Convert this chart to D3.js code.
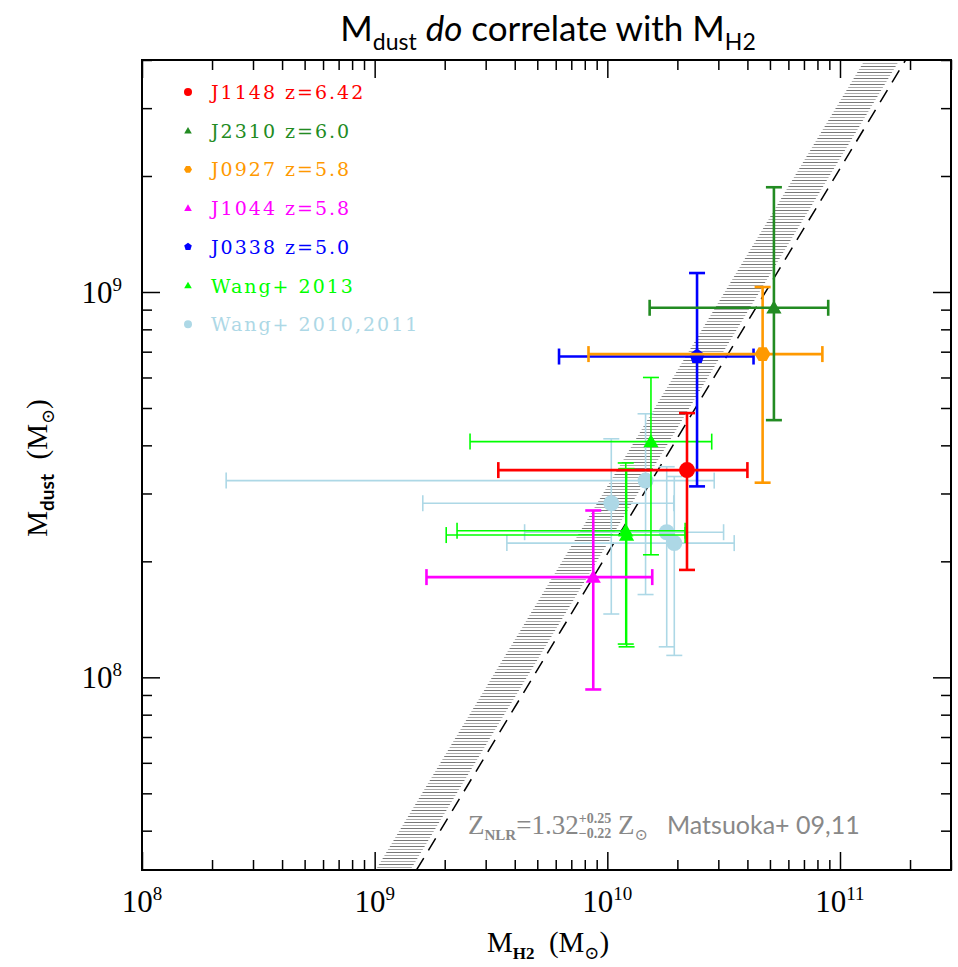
<!DOCTYPE html>
<html>
<head>
<meta charset="utf-8">
<title>Mdust vs MH2</title>
<script src="https://cdn.jsdelivr.net/npm/d3@7"></script>
<style>
  body { margin: 0; background: #fff; }
  text { white-space: pre; }
</style>
</head>
<body>
<svg id="vis" width="958" height="967"></svg>
<script>
// series (legend order)
const seriesNames = ["J1148 z=6.42", "J2310 z=6.0", "J0927 z=5.8", "J1044 z=5.8", "J0338 z=5.0", "Wang+ 2013", "Wang+ 2010,2011"];
const seriesColors = ["#ff0000", "#228b22", "#ff9900", "#ff00ff", "#0000ff", "#00ff00", "#add8e6"];
const seriesShapes = ["circle", "triangle", "hexagon", "triangle", "pentagon", "triangle", "circle"];

// points, in drawing order (Wang 2010/11, Wang 2013, then the five quasars)
const pointSeries = [6, 6, 6, 6, 5, 5, 5, 3, 4, 2, 1, 0];
const mH2     = [1.46e10, 1.04e10, 1.80e10, 1.94e10, 1.54e10, 1.20e10, 1.21e10, 8.7e9, 2.43e10, 4.65e10, 5.2e10, 2.2e10];
const mH2Lo   = [2.3e8, 1.61e9, 4.41e9, 3.70e9, 2.57e9, 2.26e9, 2.03e9, 1.67e9, 6.2e9, 8.3e9, 1.52e10, 3.4e9];
const mH2Hi   = [2.88e10, 1.93e10, 3.16e10, 3.51e10, 2.81e10, 2.16e10, 2.16e10, 1.56e10, 4.25e10, 8.4e10, 8.9e10, 4.0e10];
const mDust   = [3.24e8, 2.83e8, 2.38e8, 2.23e8, 4.09e8, 2.40e8, 2.34e8, 1.82e8, 6.8e8, 6.9e8, 9.1e8, 3.45e8];
const mDustLo = [1.64e8, 1.46e8, 1.20e8, 1.14e8, 2.08e8, 1.22e8, 1.20e8, 9.3e7, 3.13e8, 3.2e8, 4.65e8, 1.9e8];
const mDustHi = [4.83e8, 4.16e8, 3.52e8, 3.32e8, 6.0e8, 3.60e8, 3.48e8, 2.71e8, 1.12e9, 1.03e9, 1.87e9, 4.85e8];

// Mdust / MH2 ratios : shaded band (Matsuoka Z_NLR) and dashed line
const bandRatio = [0.0222, 0.0313];
const lineRatio = 0.0209;

// axes
const xDomain = [1e8, 3e11];
const yDomain = [Math.pow(10, 7.5), 4e9];
const xMajorTicks = [1e8, 1e9, 1e10, 1e11];
const yMajorTicks = [1e8, 1e9];
const xExpLabels = ["8", "9", "10", "11"];
const yExpLabels = ["8", "9"];

const L = 142, R = 951, T = 60, B = 870;
const serif = "'Liberation Serif', 'DejaVu Serif', serif";
const sans = "Lato, 'Open Sans', sans-serif";

const svg = d3.select("#vis");
const x = d3.scaleLog().domain(xDomain).range([L, R]);
const y = d3.scaleLog().domain(yDomain).range([B, T]);

// clip + hatch pattern
const defs = svg.append("defs");
defs.append("clipPath").attr("id", "plotClip")
  .append("rect").attr("x", L).attr("y", T).attr("width", R - L).attr("height", B - T);
const pat = defs.append("pattern").attr("id", "hatch")
  .attr("patternUnits", "userSpaceOnUse").attr("width", 20).attr("height", 6);
pat.append("rect").attr("x", 0).attr("y", 0).attr("width", 20).attr("height", 1).attr("fill", "#777");
pat.append("rect").attr("x", 0).attr("y", 3).attr("width", 20).attr("height", 1).attr("fill", "#aaa");

const plot = svg.append("g").attr("clip-path", "url(#plotClip)");

// band
const yLo = yDomain[0], yHi = yDomain[1];
const bandPts = [
  [yLo / bandRatio[1], yLo], [yHi / bandRatio[1], yHi],
  [yHi / bandRatio[0], yHi], [yLo / bandRatio[0], yLo]
];
plot.append("path")
  .attr("d", d3.line().x(d => x(d[0])).y(d => y(d[1]))(bandPts) + "Z")
  .attr("fill", "url(#hatch)");

// dashed line
plot.append("line")
  .attr("x1", x(yLo / lineRatio)).attr("y1", y(yLo))
  .attr("x2", x(yHi / lineRatio)).attr("y2", y(yHi))
  .attr("stroke", "#000").attr("stroke-width", 1.5)
  .attr("stroke-dasharray", "14 9");

// marker shapes
function shapePath(shape, r) {
  if (shape === "circle") return d3.symbol(d3.symbolCircle, Math.PI * r * r)();
  let n = 3, rot = -Math.PI / 2, rr = r * 1.1;
  if (shape === "pentagon") { n = 5; rr = r; }
  if (shape === "hexagon") { n = 6; rot = 0; rr = r; }
  const pts = d3.range(n).map(i => {
    const a = rot + i * 2 * Math.PI / n;
    return [rr * Math.cos(a), rr * Math.sin(a) + (n === 3 ? rr * 0.15 : 0)];
  });
  return "M" + pts.map(p => p.join(",")).join("L") + "Z";
}

// error bars + points
const pts = mH2.map((v, i) => ({
  s: pointSeries[i], x: v, xl: mH2Lo[i], xh: mH2Hi[i],
  y: mDust[i], yl: mDustLo[i], yh: mDustHi[i]
}));
const cap = 8;
pts.forEach(p => {
  const c = seriesColors[p.s];
  const quasar = p.s < 5;
  const lw = quasar ? 2.6 : 1.6;
  const g = plot.append("g").attr("stroke", c).attr("stroke-width", lw).attr("fill", "none");
  const cx = x(p.x), cy = y(p.y);
  g.append("line").attr("x1", x(p.xl)).attr("x2", x(p.xh)).attr("y1", cy).attr("y2", cy);
  g.append("line").attr("x1", cx).attr("x2", cx).attr("y1", y(p.yl)).attr("y2", y(p.yh));
  [x(p.xl), x(p.xh)].forEach(xx =>
    g.append("line").attr("x1", xx).attr("x2", xx).attr("y1", cy - cap).attr("y2", cy + cap));
  [y(p.yl), y(p.yh)].forEach(yy =>
    g.append("line").attr("x1", cx - cap).attr("x2", cx + cap).attr("y1", yy).attr("y2", yy));
  plot.append("path")
    .attr("d", shapePath(seriesShapes[p.s], 8))
    .attr("transform", `translate(${cx},${cy})`)
    .attr("fill", c);
});

// ticks on all four sides
const minorX = x.ticks().filter(v => !xMajorTicks.includes(v));
const minorY = y.ticks().filter(v => !yMajorTicks.includes(v));
function tickAxis(axisFn, scale, vals, size, tr) {
  svg.append("g").attr("transform", tr)
    .call(axisFn(scale).tickValues(vals).tickSize(-size).tickFormat(""))
    .call(g => g.select(".domain").remove())
    .call(g => g.selectAll("line").attr("stroke", "#000").attr("stroke-width", 1.5));
}
[[minorX, 10], [xMajorTicks, 18]].forEach(([v, s]) => {
  tickAxis(d3.axisBottom, x, v, s, `translate(0,${B})`);
  tickAxis(d3.axisTop, x, v, s, `translate(0,${T})`);
});
[[minorY, 10], [yMajorTicks, 18]].forEach(([v, s]) => {
  tickAxis(d3.axisLeft, y, v, s, `translate(${L},0)`);
  tickAxis(d3.axisRight, y, v, s, `translate(${R},0)`);
});

// frame
svg.append("rect").attr("x", L).attr("y", T).attr("width", R - L).attr("height", B - T)
  .attr("fill", "none").attr("stroke", "#000").attr("stroke-width", 2);

// tick labels
function powLabel(sel, exp) {
  sel.append("tspan").text("10");
  sel.append("tspan").attr("dy", -12).attr("font-size", 19).text(exp);
}
xMajorTicks.forEach((v, i) => {
  svg.append("text").attr("x", x(v)).attr("y", 912)
    .attr("text-anchor", "middle").attr("font-family", serif).attr("font-size", 31)
    .call(powLabel, xExpLabels[i]);
});
yMajorTicks.forEach((v, i) => {
  svg.append("text").attr("x", 122).attr("y", y(v) + 11)
    .attr("text-anchor", "end").attr("font-family", serif).attr("font-size", 31)
    .call(powLabel, yExpLabels[i]);
});

// axis titles
const xl = svg.append("text").attr("x", 548).attr("y", 952).attr("text-anchor", "middle")
  .attr("font-family", serif).attr("font-size", 29);
xl.append("tspan").text("M");
xl.append("tspan").attr("dy", 7).attr("font-size", 17).attr("font-weight", "bold").text("H2");
xl.append("tspan").attr("dy", -7).text("  (M");
xl.append("tspan").attr("dy", 7).attr("font-size", 18).text("\u2299");
xl.append("tspan").attr("dy", -7).text(")");

const yl = svg.append("text").attr("transform", "translate(47,468) rotate(-90)")
  .attr("text-anchor", "middle").attr("font-family", serif).attr("font-size", 29);
yl.append("tspan").text("M");
yl.append("tspan").attr("dy", 7).attr("font-size", 19).attr("font-family", sans).attr("font-weight", "bold").text("dust");
yl.append("tspan").attr("dy", -7).text("  (M");
yl.append("tspan").attr("dy", 7).attr("font-size", 18).text("\u2299");
yl.append("tspan").attr("dy", -7).text(")");

// title
const tt = svg.append("text").attr("x", 548).attr("y", 41).attr("text-anchor", "middle")
  .attr("font-family", sans).attr("font-size", 35);
tt.append("tspan").text("M");
tt.append("tspan").attr("dy", 9).attr("font-size", 23).text("dust");
tt.append("tspan").attr("dy", -9).text(" ");
tt.append("tspan").attr("font-style", "italic").text("do");
tt.append("tspan").text(" correlate with M");
tt.append("tspan").attr("dy", 9).attr("font-size", 23).text("H2");

// legend
const leg = svg.append("g");
seriesNames.forEach((name, i) => {
  const ly = 92 + i * 38.7;
  leg.append("path").attr("d", shapePath(seriesShapes[i], 4))
    .attr("transform", `translate(188,${ly})`).attr("fill", seriesColors[i]);
  leg.append("text").attr("x", 211).attr("y", ly + 7)
    .attr("font-family", "'DejaVu Serif', serif").attr("font-size", 19)
    .attr("letter-spacing", 2).attr("fill", seriesColors[i]).text(name);
});

// annotation
const ann = svg.append("g").attr("fill", "#888");
let ax = 468;
const ay = 834;
function piece(txt, size, dy, font, weight) {
  const t = ann.append("text").attr("x", ax).attr("y", ay + dy)
    .attr("font-family", font || serif).attr("font-size", size)
    .attr("font-weight", weight || "normal").text(txt);
  return t.node().getComputedTextLength();
}
ax += piece("Z", 27, 0);
ax += piece("NLR", 15, 6, serif, "bold");
ax += piece("=1.32", 27, 0);
ax += Math.max(piece("+0.25", 14, -11, serif, "bold"), piece("\u22120.22", 14, 4, serif, "bold"));
ax += piece(" Z", 27, 0);
ax += piece("\u2299", 16, 6);
piece("   Matsuoka+ 09,11", 25, 0, sans);
</script>
</body>
</html>
